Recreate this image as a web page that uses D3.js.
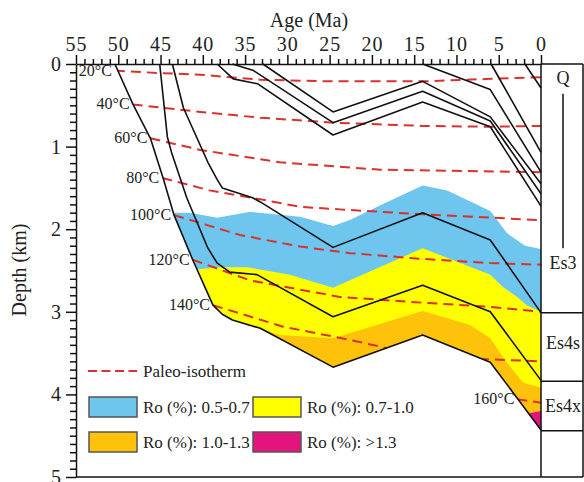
<!DOCTYPE html>
<html>
<head>
<meta charset="utf-8">
<script src="https://cdn.jsdelivr.net/npm/d3@7"></script>
<style>
  body { margin: 0; background: #fff; }
  svg { display: block; font-family: "Liberation Serif", "Times New Roman", serif; }
</style>
</head>
<body>
<script>
// ---------------- DATA ----------------
const ageTicks = [55, 50, 45, 40, 35, 30, 25, 20, 15, 10, 5, 0];
const depthTicks = [0, 1, 2, 3, 4, 5];

// burial-history lines: [age (Ma), depth (km)]
const burialL1 = [[50.4,0],[48.3,0.48],[46.2,0.90],[44.7,1.38],[43.4,1.83],[41.2,2.37],[38.8,2.92],[37.7,3.03],[36.5,3.10],[33.2,3.20],[24.6,3.67],[14.0,3.28],[6.0,3.61],[0,4.43]];
const burialL2 = [[45.1,0],[44.2,0.88],[43.7,1.07],[41.9,1.62],[39.4,2.23],[38.3,2.41],[36.8,2.52],[33.6,2.55],[24.6,3.06],[14.0,2.68],[6.0,3.00],[0,3.83]];
const burialL3 = [[43.6,0],[42.3,0.53],[39.4,1.19],[38.3,1.40],[37.7,1.50],[34.1,1.62],[33.2,1.67],[24.6,2.22],[14.0,1.80],[6.0,2.13],[0,3.01]];
const burialL4 = [[38.3,0],[36.4,0.18],[33.5,0.24],[24.6,0.86],[14.0,0.46],[6.0,0.76],[0,1.72]];
const burialL5 = [[36.5,0],[34.0,0.08],[24.6,0.71],[14.0,0.33],[6.0,0.69],[0,1.57]];
const burialL6 = [[32.9,0],[24.6,0.58],[14.0,0.21],[6.0,0.64],[0,1.45]];
const burialL7 = [[14.0,0],[6.0,0.31],[0,1.31]];
const burialL8 = [[5.9,0],[0,1.07]];
const burialL9 = [[1.9,0],[0,0.29]];

// paleo-isotherms
const isoLabels = ["20°C","40°C","60°C","80°C","100°C","120°C","140°C","160°C"];
const iso20  = [[50.4,0.08],[45.1,0.11],[40.3,0.13],[33.2,0.19],[25,0.21],[14,0.21],[6,0.18],[0,0.16]];
const iso40  = [[48.3,0.49],[40.3,0.58],[33.2,0.65],[24.6,0.71],[14,0.75],[6,0.76],[0,0.75]];
const iso60  = [[46.2,0.90],[40.3,1.04],[30.9,1.19],[19,1.28],[0,1.31]];
const iso80  = [[44.8,1.38],[39.2,1.53],[33.6,1.63],[28.5,1.73],[23.8,1.76],[14,1.82],[0,1.89]];
const iso100 = [[43.4,1.83],[35.6,2.07],[28.5,2.21],[22.6,2.29],[14,2.36],[6,2.41],[0,2.43]];
const iso120 = [[41.2,2.37],[34.4,2.62],[23.8,2.82],[14,2.89],[6,2.94],[0,3.00]];
const iso140 = [[38.8,2.92],[30.5,3.18],[22.6,3.34],[18.2,3.44],[7.2,3.57],[0,3.60]];
const iso160 = [[2.8,4.06],[0,4.10]];

// Ro maturity contours (top of each zone)
const ro05 = [[44.5,1.80],[41.5,1.80],[38.3,1.86],[34.4,1.79],[28.5,1.85],[24.6,1.96],[22.6,1.89],[19.0,1.71],[14.0,1.47],[11.1,1.53],[6.0,1.78],[4.0,2.05],[1.9,2.20],[0,2.24]];
const ro07 = [[42.5,2.49],[41.2,2.49],[38.0,2.46],[34.8,2.46],[29.7,2.55],[24.6,2.71],[14.0,2.23],[6.0,2.55],[4.5,2.70],[2.8,2.82],[1.7,2.92],[0,3.00]];
const ro10 = [[35.5,3.18],[33.8,3.18],[30.9,3.28],[24.6,3.32],[14.0,2.99],[8.4,3.16],[6.0,3.32],[4.0,3.62],[2.1,3.86],[0,3.92]];
const ro13 = [[3.5,4.30],[2.5,4.25],[0,4.20]];
const zoneNames = ["Ro (%): 0.5-0.7","Ro (%): 0.7-1.0","Ro (%): 1.0-1.3","Ro (%): >1.3"];
const zoneColors = ["#6EC5EE","#FFFF00","#FFC20A","#E3147C"];

// stratigraphy column
const stratNames = ["Q","Es3","Es4s","Es4x"];
const stratLabelDepths = [0.17, 2.41, 3.38, 4.14];
const stratBounds = [3.01, 3.84, 4.44];
const qRangeLine = [0.36, 2.23];

// ---------------- CHART ----------------
const W = 584, H = 482;
const x = d3.scaleLinear().domain([55, 0]).range([76, 541]);
const y = d3.scaleLinear().domain([0, 5]).range([64, 477]);
const colRight = 583;

const svg = d3.select("body").append("svg").attr("width", W).attr("height", H);
const line = d3.line().x(d => x(d[0])).y(d => y(d[1]));

// clip: sediment region above the deepest burial line
const clipPoly = burialL1.concat([[0,0]]);
svg.append("clipPath").attr("id","sed").append("path").attr("d", line(clipPoly) + "Z");

const zones = [ro05, ro07, ro10, ro13];
const gz = svg.append("g").attr("clip-path","url(#sed)");
zones.forEach((z, i) => {
  const poly = z.concat([[z[z.length-1][0], 6], [z[0][0], 6]]);
  gz.append("path").attr("d", line(poly) + "Z").attr("fill", zoneColors[i]).attr("stroke","none");
});

// isotherms
const isos = [iso20, iso40, iso60, iso80, iso100, iso120, iso140, iso160];
const dashColor = "#D9312B";
const gi = svg.append("g").attr("clip-path","url(#sed)");
isos.forEach(iso => {
  gi.append("path").attr("d", line(iso)).attr("fill","none")
    .attr("stroke", dashColor).attr("stroke-width", 2).attr("stroke-dasharray","10,6");
});
isos.forEach((iso, i) => {
  svg.append("text").attr("x", x(iso[0][0]) - 3).attr("y", y(iso[0][1]) + 5)
    .attr("text-anchor","end").attr("font-size", 16).attr("fill","#222").text(isoLabels[i]);
});

// burial lines
const burial = [burialL1, burialL2, burialL3, burialL4, burialL5, burialL6, burialL7, burialL8, burialL9];
burial.forEach(b => {
  svg.append("path").attr("d", line(b)).attr("fill","none")
    .attr("stroke","#111").attr("stroke-width",1.6).attr("stroke-linejoin","round");
});

// stratigraphic column
const gs = svg.append("g").attr("stroke","#111").attr("stroke-width",1.5);
gs.append("line").attr("x1", x(0)).attr("x2", x(0)).attr("y1", y(0)).attr("y2", y(5));
gs.append("line").attr("x1", colRight).attr("x2", colRight).attr("y1", y(0)).attr("y2", y(5));
stratBounds.forEach(b => {
  gs.append("line").attr("x1", x(0)).attr("x2", colRight).attr("y1", y(b)).attr("y2", y(b));
});
gs.append("line").attr("x1", 563).attr("x2", 563).attr("y1", y(qRangeLine[0])).attr("y2", y(qRangeLine[1]));
stratNames.forEach((n, i) => {
  svg.append("text").attr("x", (x(0) + colRight) / 2 + 1).attr("y", y(stratLabelDepths[i]) + 6)
    .attr("text-anchor","middle").attr("font-size", 18).attr("fill","#222").text(n);
});

// axes
const axStyle = g => {
  g.selectAll("path,line").attr("stroke","#111").attr("stroke-width",1.5);
  g.selectAll("text").attr("font-family","Liberation Serif, Times New Roman, serif").attr("fill","#222");
};
const minorAges = d3.range(1, 55).filter(v => v % 5 !== 0);
svg.append("g").attr("transform",`translate(0,${y(0)})`)
  .call(d3.axisTop(x).tickValues(minorAges).tickSize(5).tickSizeOuter(0).tickFormat(""))
  .call(g => g.select(".domain").remove()).call(axStyle);
svg.append("g").attr("transform",`translate(0,${y(0)})`)
  .call(d3.axisTop(x).tickValues(ageTicks).tickSize(9).tickSizeOuter(0).tickPadding(4).tickFormat(d3.format("d")))
  .call(axStyle)
  .call(g => g.selectAll("text").attr("font-size", 20).attr("letter-spacing", "1px"));
svg.append("line").attr("x1", x(0)).attr("x2", colRight).attr("y1", y(0)).attr("y2", y(0))
  .attr("stroke","#111").attr("stroke-width",1.5);

const minorDepths = d3.range(1, 50).filter(v => v % 10 !== 0).map(v => v / 10);
svg.append("g").attr("transform",`translate(${x(55)},0)`)
  .call(d3.axisLeft(y).tickValues(minorDepths).tickSize(6).tickSizeOuter(0).tickFormat(""))
  .call(g => g.select(".domain").remove()).call(axStyle);
svg.append("g").attr("transform",`translate(${x(55)},0)`)
  .call(d3.axisLeft(y).tickValues(depthTicks).tickSize(10).tickSizeOuter(0).tickPadding(5).tickFormat(d3.format("d")))
  .call(axStyle)
  .call(g => g.selectAll("text").attr("font-size", 20));
svg.append("line").attr("x1", x(55)).attr("x2", colRight).attr("y1", y(5)).attr("y2", y(5))
  .attr("stroke","#111").attr("stroke-width",1.5);

// axis titles
svg.append("text").attr("x", 309).attr("y", 27).attr("text-anchor","middle")
  .attr("font-size", 20).attr("fill","#222").text("Age (Ma)");
svg.append("text").attr("transform","translate(26,270) rotate(-90)").attr("text-anchor","middle")
  .attr("font-size", 20).attr("fill","#222").text("Depth (km)");

// legend
const lg = svg.append("g");
lg.append("line").attr("x1", 88).attr("x2", 137).attr("y1", 371).attr("y2", 371)
  .attr("stroke", dashColor).attr("stroke-width", 2).attr("stroke-dasharray","9,4.5");
lg.append("text").attr("x", 143).attr("y", 377).attr("font-size", 17).attr("fill","#222").text("Paleo-isotherm");
const legPos = [[89,397],[253,397],[89,432],[253,432]];
zoneNames.forEach((n, i) => {
  const [lx, ly] = legPos[i];
  lg.append("rect").attr("x", lx).attr("y", ly).attr("width", 48).attr("height", 20)
    .attr("fill", zoneColors[i]).attr("stroke","#555").attr("stroke-width",1.5);
  lg.append("text").attr("x", lx + 54).attr("y", ly + 16).attr("font-size", 17).attr("fill","#222").text(n);
});
</script>
</body>
</html>
